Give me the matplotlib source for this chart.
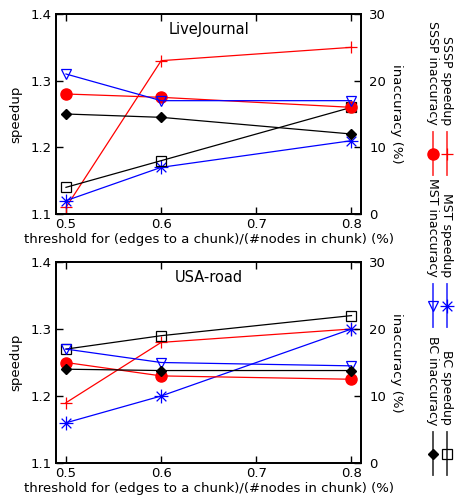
import matplotlib
matplotlib.use('Agg')
import matplotlib.pyplot as plt
from matplotlib.path import Path
from matplotlib.lines import Line2D

thresholds = [0.5, 0.6, 0.8]

# LiveJournal
lj_sssp_speedup = [1.11, 1.33, 1.35]
lj_sssp_inacc = [18, 17.5, 16]
lj_mst_speedup = [1.12, 1.17, 1.21]
lj_mst_inacc = [21, 17, 17]
lj_bc_speedup = [1.14, 1.18, 1.26]
lj_bc_inacc = [15, 14.5, 12]

# USA-road
usa_sssp_speedup = [1.19, 1.28, 1.30]
usa_sssp_inacc = [15, 13, 12.5]
usa_mst_speedup = [1.16, 1.20, 1.30]
usa_mst_inacc = [17, 15, 14.5]
usa_bc_speedup = [1.27, 1.29, 1.32]
usa_bc_inacc = [14, 13.8, 13.8]

xticks = [0.5, 0.6, 0.7, 0.8]
speed_ticks = [1.1, 1.2, 1.3, 1.4]
inacc_ticks = [0, 10, 20, 30]

plt.rcParams['font.family'] = 'DejaVu Sans'
plt.rcParams['font.size'] = 9

star = Path([(-1, 0), (1, 0), (0, -1), (0, 1),
             (-0.7, -0.7), (0.7, 0.7), (-0.7, 0.7), (0.7, -0.7)],
            [Path.MOVETO, Path.LINETO] * 4)

W, H = 457, 498
fig = plt.figure(figsize=(W / 100, H / 100), dpi=100)

styles = {
    'sssp_s': dict(color='red', marker='+', ms=9, mew=0.9, mfc='none'),
    'sssp_i': dict(color='red', marker='o', ms=8, mfc='red', mec='red'),
    'mst_s': dict(color='blue', marker=star, ms=10, mew=0.9),
    'mst_i': dict(color='blue', marker='v', ms=7.5, mfc='none', mew=0.9),
    'bc_s': dict(color='black', marker='s', ms=7.5, mfc='none', mew=0.9),
    'bc_i': dict(color='black', marker='D', ms=5.5, mfc='black'),
}


def panel(rect, title, sp, inacc):
    ax = fig.add_axes(rect)
    ax2 = ax.twinx()
    for key, vals in sp:
        ax.plot(thresholds, vals, lw=0.9, clip_on=False, **styles[key])
    for key, vals in inacc:
        ax2.plot(thresholds, vals, lw=0.9, clip_on=False, **styles[key])
    ax.set_xlim(0.4895, 0.81)
    ax.set_ylim(1.1, 1.4)
    ax2.set_ylim(0, 30)
    ax.set_xticks(xticks)
    ax.set_xticklabels(['0.5', '0.6', '0.7', '0.8'])
    ax.set_yticks(speed_ticks)
    ax.set_yticklabels(['1.1', '1.2', '1.3', '1.4'])
    ax2.set_yticks(inacc_ticks)
    ax.tick_params(direction='in', length=5, width=1, top=True, labelsize=9.5, pad=3)
    ax2.tick_params(direction='in', length=5, width=1, labelsize=9.5, pad=6)
    for a in (ax, ax2):
        for s in a.spines.values():
            s.set_linewidth(1.3)
    ax.set_ylabel('speedup', fontsize=9.5, labelpad=6)
    ax2.set_ylabel('inaccuracy (%)', fontsize=9.5, rotation=-90, labelpad=12)
    ax.set_xlabel('threshold for (edges to a chunk)/(#nodes in chunk) (%)',
                  fontsize=9.5, labelpad=1)
    ax.text(0.5, 0.96, title, transform=ax.transAxes, ha='center', va='top', fontsize=10.5)
    return ax


left = 56 / W
width = (361 - 56) / W
panel([left, 1 - 214 / H, width, 200 / H], 'LiveJournal',
      [('sssp_s', lj_sssp_speedup), ('mst_s', lj_mst_speedup), ('bc_s', lj_bc_speedup)],
      [('sssp_i', lj_sssp_inacc), ('mst_i', lj_mst_inacc), ('bc_i', lj_bc_inacc)])
panel([left, 1 - 463 / H, width, 201 / H], 'USA-road',
      [('sssp_s', usa_sssp_speedup), ('mst_s', usa_mst_speedup), ('bc_s', usa_bc_speedup)],
      [('sssp_i', usa_sssp_inacc), ('mst_i', usa_mst_inacc), ('bc_i', usa_bc_inacc)])

# rotated legend on the right
legend_items = [
    ('SSSP speedup', 'SSSP inaccuracy', 'sssp_s', 'sssp_i', 125),
    ('MST speedup', 'MST inaccuracy', 'mst_s', 'mst_i', 277),
    ('BC speedup', 'BC inaccuracy', 'bc_s', 'bc_i', 425),
]
for lab_s, lab_i, ks, ki, yend in legend_items:
    for lab, key, px in ((lab_s, ks, 447), (lab_i, ki, 433)):
        fig.text(px / W, 1 - yend / H, lab, rotation=-90, ha='center', va='bottom',
                 fontsize=9)
        st = dict(styles[key])
        fig.add_artist(Line2D([px / W, px / W], [1 - (yend + 7) / H, 1 - (yend + 50) / H],
                              transform=fig.transFigure, lw=1.3, alpha=0.75,
                              color=st['color']))
        fig.add_artist(Line2D([px / W], [1 - (yend + 29) / H], transform=fig.transFigure,
                              ls='none', **st))

fig.savefig('out.png', dpi=100)
